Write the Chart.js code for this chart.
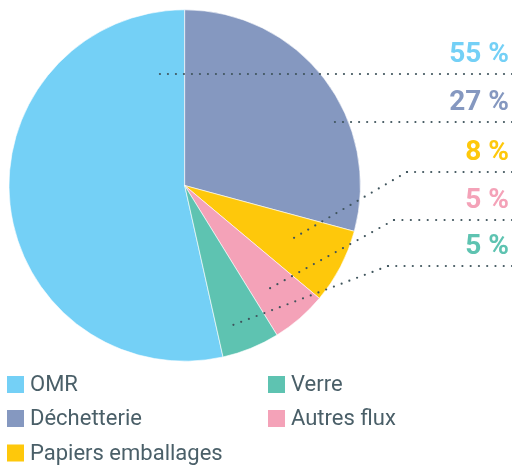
<!DOCTYPE html>
<html>
<head>
<meta charset="utf-8">
<script src="https://cdn.jsdelivr.net/npm/chart.js@4.4.0/dist/chart.umd.min.js"></script>
<style>
  html, body { margin: 0; padding: 0; background: #fff; }
</style>
</head>
<body>
<canvas id="PieChart" width="512" height="466"></canvas>
<script>
var categories = ["OMR", "Déchetterie", "Papiers emballages", "Autres flux", "Verre"];
var shares = [53.5, 29.2, 6.9, 5.1, 5.3];
var percentLabels = ["55 %", "27 %", "8 %", "5 %", "5 %"];
var colours = ["#74d0f6", "#8598c0", "#fec80b", "#f4a2b8", "#5ec3b1"];
var legendOrder = [0, 1, 2, 4, 3]; // legend reads down the columns

var total = shares.reduce(function (a, b) { return a + b; }, 0);

// percent labels on the right + dotted leaders into each slice
var leaderPlugin = {
  id: 'leaders',
  afterDatasetsDraw: function (chart, args, opts) {
    var ctx = chart.ctx;
    var arcs = chart.getDatasetMeta(0).data;
    ctx.save();
    opts.items.forEach(function (it, i) {
      var arc = arcs[i];
      var a = arc.startAngle + (arc.endAngle - arc.startAngle) * it.t;
      var px = arc.x + Math.cos(a) * arc.outerRadius * it.r;
      var py = arc.y + Math.sin(a) * arc.outerRadius * it.r;
      var lineY = it.y + 19;
      var pts;
      if (it.elbow == null) {
        pts = [[px, lineY], [chart.width, lineY]];
      } else {
        pts = [[px, py], [it.elbow, lineY], [chart.width, lineY]];
      }
      // dots every 8px along the path
      ctx.fillStyle = '#3f545c';
      for (var s = 0; s < pts.length - 1; s++) {
        var x0 = pts[s][0], y0 = pts[s][1], x1 = pts[s + 1][0], y1 = pts[s + 1][1];
        var len = Math.hypot(x1 - x0, y1 - y0);
        var n = Math.floor(len / 8);
        for (var k = 0; k <= n; k++) {
          ctx.beginPath();
          ctx.arc(x0 + (x1 - x0) * k / n, y0 + (y1 - y0) * k / n, 1.1, 0, Math.PI * 2);
          ctx.fill();
        }
      }
      ctx.font = 'bold 28px Roboto';
      ctx.textAlign = 'right';
      ctx.textBaseline = 'middle';
      ctx.fillStyle = colours[i];
      ctx.fillText(percentLabels[i], 509, it.y);
    });
    ctx.restore();
  }
};

// two-column legend under the pie
var gridLegend = {
  id: 'gridLegend',
  afterDraw: function (chart, args, opts) {
    var ctx = chart.ctx;
    ctx.save();
    ctx.font = '22px Roboto';
    ctx.textBaseline = 'middle';
    ctx.textAlign = 'left';
    legendOrder.forEach(function (idx, n) {
      var col = Math.floor(n / 3), row = n % 3;
      var x = opts.x[col], y = opts.y[row];
      ctx.fillStyle = colours[idx];
      ctx.fillRect(x, y - 8.5, 17, 17);
      ctx.fillStyle = '#4a5f68';
      ctx.fillText(categories[idx], x + 23, y + 1);
    });
    ctx.restore();
  }
};

var ctx = document.getElementById('PieChart').getContext('2d');
var myChart = new Chart(ctx, {
  type: 'pie',
  data: {
    labels: categories,
    datasets: [{
      data: shares,
      backgroundColor: colours,
      borderColor: '#ffffff',
      borderWidth: 0.6
    }]
  },
  options: {
    responsive: false,
    animation: false,
    rotation: -shares[0] / total * 360,
    layout: { padding: { left: 8.7, top: 9.5, right: 151.3, bottom: 104.5 } },
    plugins: {
      legend: { display: false },
      tooltip: { enabled: false },
      leaders: {
        items: [
          { t: 0.935, r: 0.65, y: 55 },
          { t: 0.636, r: 0.93, y: 103 },
          { t: 0.42, r: 0.69, y: 153, elbow: 407 },
          { t: 0.56, r: 0.76, y: 201, elbow: 394 },
          { t: 0.65, r: 0.84, y: 247, elbow: 388 }
        ]
      },
      gridLegend: { x: [7, 268], y: [384.5, 418.5, 453] }
    }
  },
  plugins: [leaderPlugin, gridLegend]
});
</script>
</body>
</html>
